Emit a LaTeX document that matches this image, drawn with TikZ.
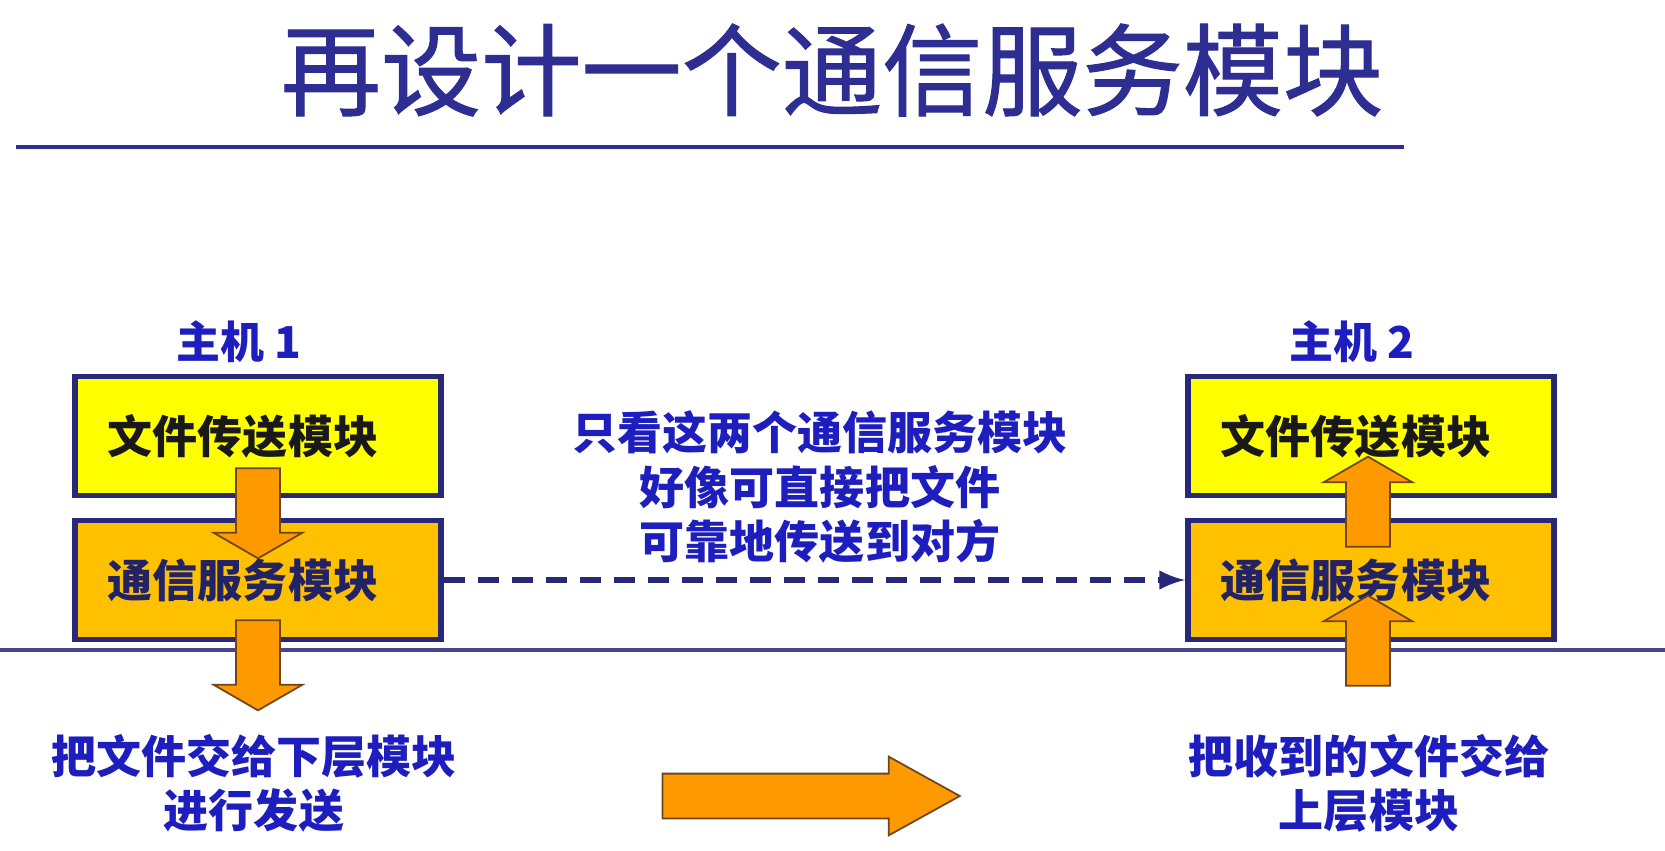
\documentclass[tikz,border=0pt]{standalone}
\usepackage{fontspec}
\setmainfont{Noto Sans CJK SC}
\newfontfamily\titlefont{Noto Sans CJK SC}[FakeBold=1]
\usetikzlibrary{shapes.arrows}
\definecolor{titleblue}{RGB}{46,46,146}
\definecolor{labelblue}{RGB}{30,30,190}
\definecolor{boxnavy}{RGB}{40,40,120}
\definecolor{fileyellow}{RGB}{255,255,0}
\definecolor{commorange}{RGB}{255,192,0}
\definecolor{arroworange}{RGB}{255,153,0}
\definecolor{arrowedge}{RGB}{110,70,30}
\definecolor{rulenavy}{RGB}{70,70,140}
\begin{document}
\begin{tikzpicture}[x=0.01cm,y=-0.01cm,>=latex,
  modbox/.style={draw=boxnavy,line width=1.6pt,minimum width=3.66cm,minimum height=1.19cm,inner sep=0pt,font=\fontsize{12.8}{15}\selectfont\bfseries},
  filebox/.style={modbox,fill=fileyellow,text=black!90},
  commbox/.style={modbox,fill=commorange,text=boxnavy!85!black},
  fatarrow/.style={single arrow,draw=arrowedge,line width=.5pt,fill=arroworange,inner xsep=0pt,inner ysep=.21cm,single arrow head extend=.225cm,single arrow tip angle=120,minimum height=.9cm},
  host/.style={font=\fontsize{12.5}{15}\selectfont\bfseries,text=labelblue},
  note/.style={align=center,text=labelblue,font=\fontsize{12.8}{15.4}\selectfont\bfseries}]
 \useasboundingbox (0,0) rectangle (1665,850);
 % title
 \node[text=titleblue,font=\fontsize{28.5}{34}\titlefont] (title) at (832,70) {再设计一个通信服务模块};
 \draw[titleblue,line width=1.2pt] (16,147) -- (1404,147);
 \draw[rulenavy,line width=1.1pt] (0,650) -- (1665,650);
 % host 1
 \node[host] (host1) at (239,342) {主机 1};
 \node[filebox] (file1) at (258,436) {文件传送模块\hspace*{.3cm}};
 \node[commbox] (comm1) at (258,580) {通信服务模块\hspace*{.3cm}};
 % host 2
 \node[host] (host2) at (1352,342) {主机 2};
 \node[filebox] (file2) at (1371,436) {文件传送模块\hspace*{.3cm}};
 \node[commbox] (comm2) at (1371,580) {通信服务模块\hspace*{.3cm}};
 \draw[->,boxnavy,line width=1.5pt,dash pattern=on .21cm off .13cm] (comm1.east) -- (comm2.west);
 \node[note] (idea) at (820,487) {只看这两个通信服务模块\\好像可直接把文件\\可靠地传送到对方};
 % block arrows
 \node[fatarrow,rotate=-90] (down1) at (258,507) {};
 \node[fatarrow,rotate=-90] (down2) at (258,659) {};
 \node[fatarrow,rotate=90] (up1) at (1368,508) {};
 \node[fatarrow,rotate=90] (up2) at (1368,647) {};
 \node[fatarrow,minimum height=2.97cm,inner ysep=.215cm,single arrow head extend=.17cm,single arrow tip angle=58] (bigarrow) at (791,796) {};
 \node[note] (send) at (254,783) {把文件交给下层模块\\进行发送};
 \node[note] (recv) at (1369,783) {把收到的文件交给\\上层模块};
\end{tikzpicture}
\end{document}
